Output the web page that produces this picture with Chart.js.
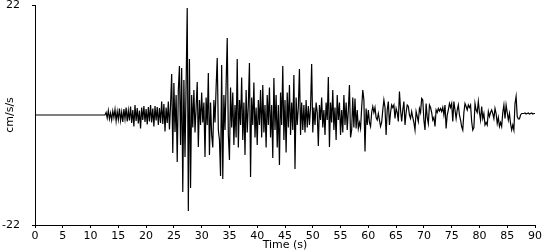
<!DOCTYPE html>
<html>
<head>
<meta charset="utf-8">
<script src="https://cdn.jsdelivr.net/npm/chart.js@4"></script>
<style>
    html, body { margin: 0; padding: 0; background: #fff; }
    canvas { display: block; }
</style>
</head>
<body>
<canvas id="quake" width="550" height="250"></canvas>
<script>
// record sampled every 0.2 s from t0 (before t0 the trace is flat at 0)
const t0 = 12.6;
const dt = 0.2;
const accel = [
    0, 0.5,                              // 12.6
    -0.6, 0.9, -0.8, 0.4, -1.0,          // 13
    0.8, -0.5, 1.1, -1.2, 0.7,           // 14
    -0.9, 1.3, -1.1, 0.6, -1.4,          // 15
    1.2, -0.8, 1.5, -1.3, 0.9,           // 16
    -1.1, 1.7, -1.6, 1.0, -2.3,          // 17
    2.0, -1.2, 1.4, -1.7, 0.9,           // 18
    -2.7, 1.5, -1.0, 1.8, -1.4,          // 19
    1.2, -1.9, 1.6, -1.3, 2.0,           // 20
    -1.5, 1.3, -2.3, 1.8, -1.1,          // 21
    1.6, -2.0, 1.4, -1.6, 2.7,           // 22
    -1.8, 2.2, -3.3, 1.5, -1.6,          // 23
    2.7, -2.9, 2.0, 8.2, -7.6,           // 24
    6.4, -3.4, 4.0, -9.4, 5.0,           // 25
    9.8, -6.0, 9.4, -15.4, 7.0,          // 26
    -8.4, 6.0, 21.4, -19.2, 11.2,        // 27
    -14.6, 4.0, -2.5, 5.0, -3.5,         // 28
    1.5, 6.6, -6.4, 3.0, -2.0,           // 29
    4.5, -1.5, 2.5, -8.4, 3.5,           // 30
    -2.0, 8.4, -8.0, 2.5, -4.0,          // 31
    -6.5, 3.0, -1.5, 5.5, 11.4,          // 32
    -3.0, -5.0, -12.2, 10.0, -12.8,      // 33
    4.0, -3.0, 6.0, 15.4, -4.0,          // 34
    -9.0, 5.5, -2.5, 4.5, -6.0,          // 35
    2.0, -4.5, 11.2, -6.5, 3.0,          // 36
    -2.0, 7.5, -5.0, 2.5, -8.0,          // 37
    5.0, -3.5, 2.0, 10.4, -12.4,         // 38
    3.5, -2.0, 6.5, -4.5, 1.5,           // 39
    -6.0, 3.0, -2.0, 5.0, -4.5,          // 40
    6.0, -3.5, 2.0, -6.5, 4.0,           // 41
    -2.0, 5.5, -4.5, 2.0, -8.6,          // 42
    7.4, -3.0, 4.0, -6.5, 2.0,           // 43
    -10.0, 4.5, -2.0, 9.8, -5.0,         // 44
    3.0, -7.5, 4.5, -2.5, 6.0,           // 45
    -4.0, 2.5, -3.0, 8.0, -10.8,         // 46
    3.5, -2.0, 1.5, 9.2, -4.0,           // 47
    2.5, -3.0, 2.0, -3.5, 3.0,           // 48
    -2.5, 1.8, -2.0, 1.5, 10.2,          // 49
    -3.5, 1.5, -2.0, 2.5, 0.5,           // 50
    -6.2, 2.0, -1.0, 3.5, -2.5,          // 51
    1.0, -4.0, 2.5, -1.0, 7.6,           // 52
    -6.4, 2.5, -1.5, 5.0, -3.0,          // 53
    1.5, -5.0, 4.0, -1.0, 2.5,           // 54
    -4.0, 1.0, -3.5, 4.0, -2.0,          // 55
    2.5, -3.0, 1.0, 6.0, -4.5,           // 56
    -3.0, 3.5, -2.5, 3.3, -2.7,          // 57
    1.0, -2.7, -1.5, -2.7, 1.5,          // 58
    5.0, 3.0, -7.3, 1.3, -2.0,           // 59
    1.0, -1.5, -2.3, 0.5, 1.7,           // 60
    0.5, 1.5, -0.5, -1.0, 0.3,           // 61
    -1.0, -2.3, -1.5, 1.0, 3.0,          // 62
    1.5, -4.0, 1.0, 2.7, -2.0,           // 63
    0.5, 2.0, 1.5, 2.0, -0.7,            // 64
    1.3, 0.5, -1.3, 4.7, 1.0,            // 65
    -1.3, 1.0, 2.7, -2.0, 0.5,           // 66
    2.0, 1.7, 0.0, -0.7, 0.7,            // 67
    -0.5, -1.5, -3.0, 0.7, -0.3,         // 68
    -1.3, 1.3, 0.5, 3.3, 3.0,            // 69
    -1.0, -3.0, 2.3, -0.5, -1.7,         // 70
    2.0, 1.5, 0.5, -1.0, -0.5,           // 71
    -2.3, 1.0, 0.5, 1.3, 0.8,            // 72
    1.3, 0.7, 1.5, 0.0, 2.0,             // 73
    -2.7, 0.0, 1.0, 2.3, 1.5,            // 74
    2.3, -1.3, 2.7, 1.0, -0.7,           // 75
    1.0, 2.0, 0.0, -1.0, -2.3,           // 76
    -3.0, 0.5, 2.3, 1.7, 1.0,            // 77
    2.0, 1.5, 2.0, -1.3, -3.0,           // 78
    -2.5, 2.3, 1.0, 0.5, 2.7,            // 79
    0.5, -1.0, 1.7, -0.7, 0.3,           // 80
    -2.0, -1.5, -2.0, 0.7, -0.3,         // 81
    0.5, 1.0, 0.3, -0.7, 1.3,            // 82
    0.3, -1.7, -0.5, -2.3, -1.5,         // 83
    -2.3, 0.5, 2.0, -0.7, 2.0,           // 84
    0.5, -1.0, 0.3, -1.7, -3.0,          // 85
    -2.0, -3.0, 2.3, 3.7, -0.3,          // 86
    -0.8, -0.8, 0.0, 0.3, 0.3,           // 87
    0.3, 0.4, 0.2, 0.3, 0.4,             // 88
    0.2, 0.3, 0.4, 0.2, 0.3,             // 89
    0.3                                  // 90
];

const xTicks = [0, 5, 10, 15, 20, 25, 30, 35, 40, 45, 50, 55, 60, 65, 70, 75, 80, 85, 90];
const yTicks = [-22, 22];

const points = [{ x: 0, y: 0 }];
accel.forEach((v, i) => points.push({ x: t0 + i * dt, y: v }));

Chart.defaults.font.family = '"DejaVu Sans", sans-serif';
Chart.defaults.font.size = 11;
Chart.defaults.color = '#000';

const ctx = document.getElementById('quake').getContext('2d');
const quakeChart = new Chart(ctx, {
    type: 'line',
    data: {
        datasets: [{
            data: points,
            borderColor: '#000',
            borderWidth: 1.2,
            pointRadius: 0,
            tension: 0,
            fill: false
        }]
    },
    options: {
        responsive: false,
        animation: false,
        layout: { autoPadding: false, padding: { top: 5, right: 15, bottom: 0, left: 0 } },
        plugins: {
            legend: { display: false },
            tooltip: { enabled: false }
        },
        scales: {
            x: {
                type: 'linear',
                min: 0,
                max: 90,
                afterBuildTicks: (axis) => { axis.ticks = xTicks.map(v => ({ value: v })); },
                afterFit: (axis) => { axis.height = 25; },
                grid: { drawOnChartArea: false, drawTicks: true, tickLength: 3, color: '#000' },
                border: { display: true, color: '#000' },
                ticks: { padding: 2, maxRotation: 0, autoSkip: false },
                title: { display: true, text: 'Time (s)', padding: { top: 0, bottom: -2 } }
            },
            y: {
                min: -22,
                max: 22,
                afterBuildTicks: (axis) => { axis.ticks = yTicks.map(v => ({ value: v })); },
                afterFit: (axis) => {
                    axis.width = 35;
                    // labels sit at the ends of the axis, don't let them push the plot in
                    axis.paddingTop = 0;
                    axis.paddingBottom = 0;
                },
                grid: { drawOnChartArea: false, drawTicks: true, tickLength: 3, color: '#000' },
                border: { display: true, color: '#000' },
                ticks: { padding: 12 },
                title: { display: true, text: 'cm/s/s', padding: { top: 4, bottom: 0 } }
            }
        }
    }
});
console.log("Loaded");
</script>
</body>
</html>
